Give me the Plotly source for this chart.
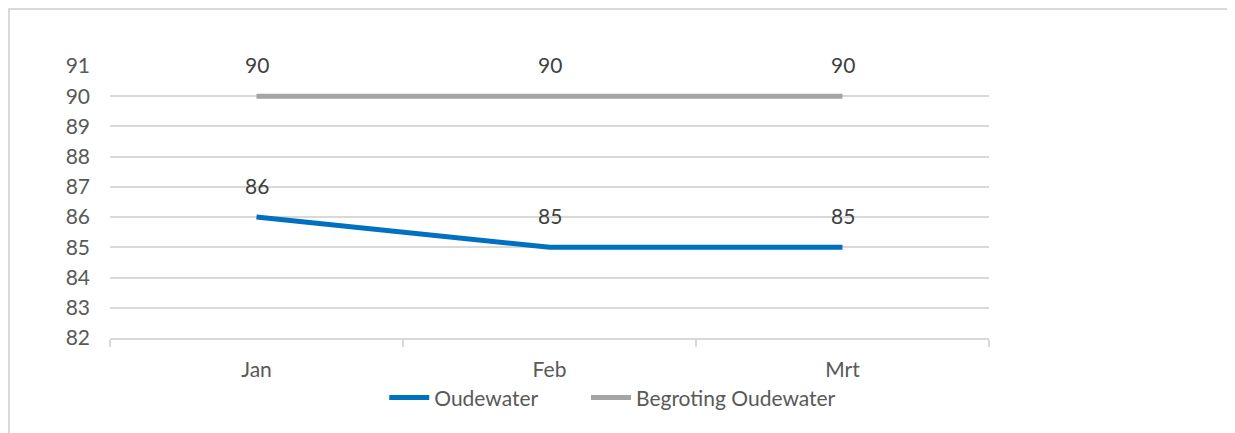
import plotly.graph_objects as go

# data
maanden = ["Jan", "Feb", "Mrt"]
oudewater = [86, 85, 85]
begroting = [90, 90, 90]

fig = go.Figure()
fig.add_trace(go.Scatter(x=maanden, y=oudewater, mode="lines", name="Oudewater",
                         line=dict(color="#0070C0", width=5), legend="legend"))
fig.add_trace(go.Scatter(x=maanden, y=begroting, mode="lines", name="Begroting Oudewater",
                         line=dict(color="#A5A5A5", width=5), legend="legend2"))

# data labels boven de punten
for reeks in (oudewater, begroting):
    for m, v in zip(maanden, reeks):
        fig.add_annotation(x=m, y=v, text=str(v), showarrow=False, yshift=32,
                           font=dict(size=21, color="#404040"))

# rand van het grafiekgebied (afgesneden)
fig.add_shape(type="line", xref="paper", yref="paper", x0=-0.12, x1=1.3, y0=1.2096, y1=1.2096,
              line=dict(color="#D9D9D9", width=2))
fig.add_shape(type="line", xref="paper", yref="paper", x0=-0.1149, x1=-0.1149, y0=-0.4, y1=1.22,
              line=dict(color="#D9D9D9", width=2))

legenda = dict(orientation="h", xanchor="left", y=-0.22, yanchor="middle",
               font=dict(size=21, color="#595959"), itemwidth=40, bgcolor="rgba(0,0,0,0)")

fig.update_layout(
    width=1227, height=425,
    margin=dict(l=102, r=246, t=58, b=95),
    plot_bgcolor="white", paper_bgcolor="white",
    font=dict(family="Lato", size=21, color="#595959"),
    showlegend=True,
    legend=dict(legenda, x=0.312),
    legend2=dict(legenda, x=0.5415),
)
fig.update_xaxes(range=[-0.5, 2.5], showgrid=False, showline=True, linecolor="#D9D9D9", linewidth=2,
                 ticks="outside", tickson="boundaries", ticklen=7, tickcolor="#D9D9D9", tickwidth=2,
                 ticklabelstandoff=12)
fig.update_yaxes(range=[82, 91], dtick=1, showgrid=True, gridcolor="#D9D9D9", gridwidth=2,
                 zeroline=False, showline=False, ticks="", ticklabelstandoff=19)

fig.write_html("out.html")
